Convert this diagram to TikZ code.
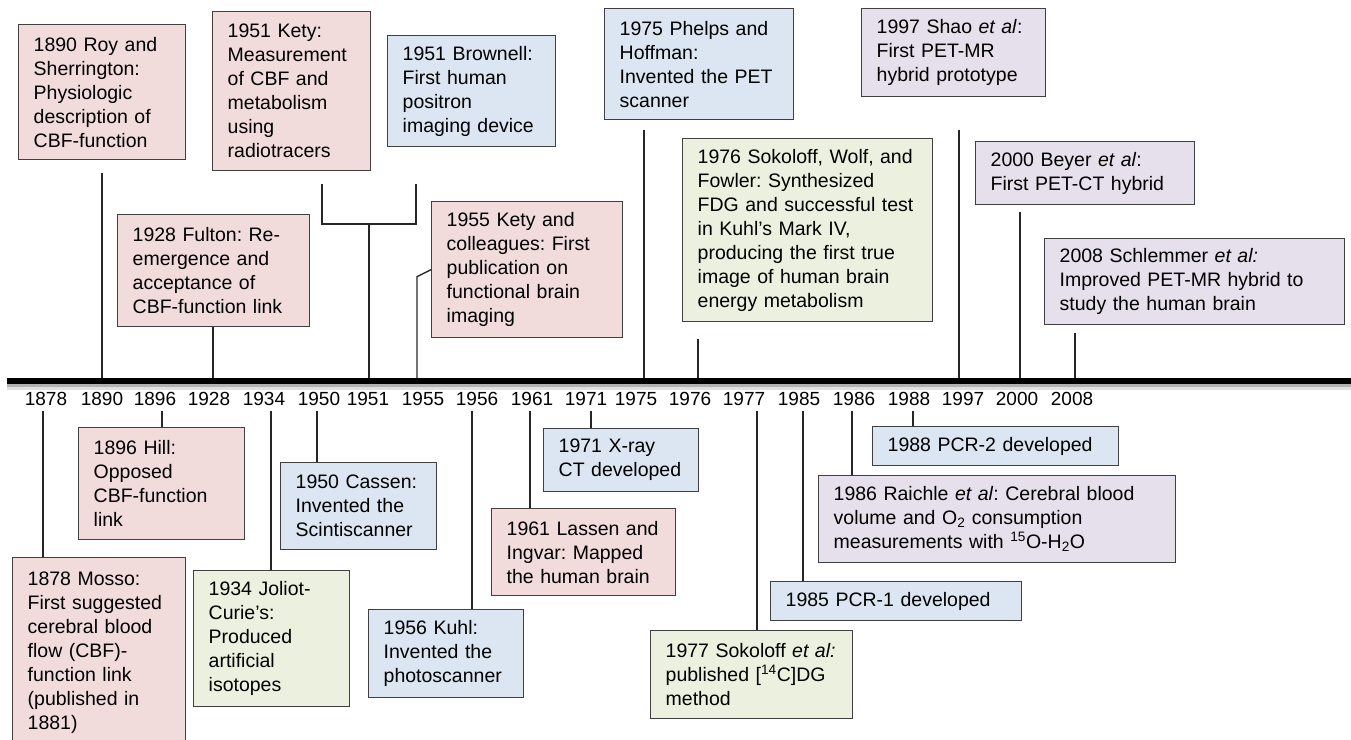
\documentclass[tikz,border=0pt]{standalone}
\usepackage{fontspec}
\setmainfont{Liberation Sans}
\usepackage{xcolor}
\usepackage{tikz}
\usetikzlibrary{calc}
\definecolor{evpink}{RGB}{242,220,219}
\definecolor{evblue}{RGB}{220,230,242}
\definecolor{evgreen}{RGB}{235,241,222}
\definecolor{evpurple}{RGB}{229,224,236}
\definecolor{evline}{RGB}{64,64,64}
\newcommand{\evfont}{\fontsize{19.5}{24}\selectfont\frenchspacing}
\newcommand{\yrfont}{\fontsize{19}{22}\selectfont}
\tikzset{
  event/.style={rectangle, draw=evline, line width=1.4pt, anchor=north west, align=left, text width=#1, inner xsep=15pt, inner ysep=4pt, font=\evfont},
  event/.default=130pt,
  yearlbl/.style={anchor=base, inner sep=0pt, font=\yrfont},
  tick/.style={line width=1.4pt, color=black!85},
  down/.style={tick, shorten <=6pt},
}

\begin{document}
\begin{tikzpicture}[x=1pt, y=-1pt]
  \useasboundingbox (0,0) rectangle (1351,739);
  \clip (0,0) rectangle (1351,739);

  % years and their tick points
  \foreach \yr/\lx/\tx in {1878/46/43, 1890/102/102, 1896/155/162, 1928/209/213, 1934/264/271, 1950/319/317, 1951/368/369, 1955/423/417, 1956/477/472, 1961/532/530, 1971/586/591, 1975/636/644, 1976/690/698, 1977/744/757, 1985/799/803, 1986/854/852, 1988/909/913, 1997/963/959, 2000/1017/1020, 2008/1072/1075} {
    \node[yearlbl] (y\yr) at (\lx,405) {\yr};
    \coordinate (t\yr) at (\tx,381);
  }
  \coordinate (tlL) at (7,381);
  \coordinate (tlR) at (1351,381);

  % events above the line
  \node[event=137pt, fill=evpink, minimum height=135pt] (roy) at (18,24) {1890 Roy and\\Sherrington:\\Physiologic\\description of\\CBF-function};
  \node[event=128pt, fill=evpink, minimum height=159pt] (kety) at (212,11) {1951 Kety:\\Measurement\\of CBF and\\metabolism\\using\\radiotracers};
  \node[event=138pt, fill=evblue, minimum height=111pt] (brown) at (387,35) {1951 Brownell:\\First human\\positron\\imaging device};
  \node[event=162pt, fill=evpink, minimum height=112pt] (fulton) at (117,214) {1928 Fulton: Re-\\emergence and\\acceptance of\\CBF-function link};
  \node[event=161pt, fill=evpink, minimum height=136pt] (k55) at (431,201) {1955 Kety and\\colleagues: First\\publication on\\functional brain\\imaging};
  \node[event=159pt, fill=evblue, minimum height=111pt] (phelps) at (604,8) {1975 Phelps and\\Hoffman:\\Invented the PET\\scanner};
  \node[event=220pt, fill=evgreen, minimum height=183pt] (sok76) at (682,138) {1976 Sokoloff, Wolf, and\\Fowler: Synthesized\\FDG and successful test\\in Kuhl’s Mark IV,\\producing the first true\\image of human brain\\energy metabolism};
  \node[event=154pt, fill=evpurple, minimum height=88pt] (shao) at (861,8) {1997 Shao \textit{et al}:\\First PET-MR\\hybrid prototype};
  \node[event=189pt, fill=evpurple, minimum height=63pt] (beyer) at (975,141) {2000 Beyer \textit{et al}:\\First PET-CT hybrid};
  \node[event=270pt, fill=evpurple, minimum height=86pt] (schl) at (1044,238) {2008 Schlemmer \textit{et al:}\\Improved PET-MR hybrid to\\study the human brain};

  % events below the line
  \node[event=136pt, fill=evpink, minimum height=112pt] (hill) at (78,427) {1896 Hill:\\Opposed\\CBF-function\\link};
  \node[event=126pt, fill=evblue, minimum height=87pt] (cassen) at (280,462) {1950 Cassen:\\Invented the\\Scintiscanner};
  \node[event=143pt, fill=evpink, minimum height=190pt] (mosso) at (12,557) {1878 Mosso:\\First suggested\\cerebral blood\\flow (CBF)-\\function link\\(published in\\1881)};
  \node[event=126pt, fill=evgreen, minimum height=136pt] (joliot) at (193,570) {1934 Joliot-\\Curie’s:\\Produced\\artificial\\isotopes};
  \node[event=125pt, fill=evblue, minimum height=88pt] (kuhl) at (368,609) {1956 Kuhl:\\Invented the\\photoscanner};
  \node[event=125pt, fill=evblue, minimum height=63pt] (xray) at (543,428) {1971 X-ray\\CT developed};
  \node[event=154pt, fill=evpink, minimum height=87pt] (lassen) at (491,508) {1961 Lassen and\\Ingvar: Mapped\\the human brain};
  \node[event=172pt, fill=evgreen, minimum height=88pt] (sok77) at (650,630) {1977 Sokoloff \textit{et al:}\\published [\textsuperscript{14}C]DG\\method};
  \node[event=221pt, fill=evblue, minimum height=39pt] (pcr1) at (770,581) {1985 PCR-1 developed};
  \node[event=327pt, fill=evpurple, minimum height=87pt] (raichle) at (818,475) {1986 Raichle \textit{et al}: Cerebral blood\\volume and O\textsubscript{2} consumption\\measurements with \textsuperscript{15}O-H\textsubscript{2}O};
  \node[event=216pt, fill=evblue, minimum height=39pt] (pcr2) at (872,426) {1988 PCR-2 developed};

  % connectors above
  \draw[tick, shorten >=13pt] (t1890) -- (t1890 |- roy.south);
  \draw[tick] (t1928) -- (t1928 |- fulton.south);
  \draw[tick, line width=2.6pt] (t1951) -- ++(0,-157) coordinate (b51);
  \draw[tick] ($(b51)+(-47,-40)$) -- ($(b51)+(-47,0)$) -- ($(b51)+(47,0)$) -- ($(b51)+(47,-40)$);
  \draw[tick] (t1955) -- ($(k55.west)+(-14,7)$) -- (k55.west);
  \draw[tick, shorten >=10pt] (t1975) -- (t1975 |- phelps.south);
  \draw[tick, shorten >=17pt] (t1976) -- (t1976 |- sok76.south);
  \draw[tick, shorten >=33pt] (t1997) -- (t1997 |- shao.south);
  \draw[tick, shorten >=7pt] (t2000) -- (t2000 |- beyer.south);
  \draw[tick, shorten >=8pt] (t2008) -- (t2008 |- schl.south);

  % connectors below
  \draw[down] (t1878 |- y1878.south) -- (t1878 |- mosso.north);
  \draw[down] (t1896 |- y1896.south) -- (t1896 |- hill.north);
  \draw[down] (t1934 |- y1934.south) -- (t1934 |- joliot.north);
  \draw[down] (t1950 |- y1950.south) -- (t1950 |- cassen.north);
  \draw[down] (t1956 |- y1956.south) -- (t1956 |- kuhl.north);
  \draw[down] (t1961 |- y1961.south) -- (t1961 |- lassen.north);
  \draw[down] (t1971 |- y1971.south) -- (t1971 |- xray.north);
  \draw[down] (t1977 |- y1977.south) -- (t1977 |- sok77.north);
  \draw[down] (t1985 |- y1985.south) -- (t1985 |- pcr1.north);
  \draw[down] (t1986 |- y1986.south) -- (t1986 |- raichle.north);
  \draw[down] (t1988 |- y1988.south) -- (t1988 |- pcr2.north);

  % the time line with its shadow
  \draw[line width=3pt, black!30] ($(tlL)+(0,4)$) -- ($(tlR)+(0,4)$);
  \draw[line width=3pt, black!12] ($(tlL)+(0,7)$) -- ($(tlR)+(0,7)$);
  \draw[line width=6.5pt] (tlL) -- (tlR);
\end{tikzpicture}
\end{document}
